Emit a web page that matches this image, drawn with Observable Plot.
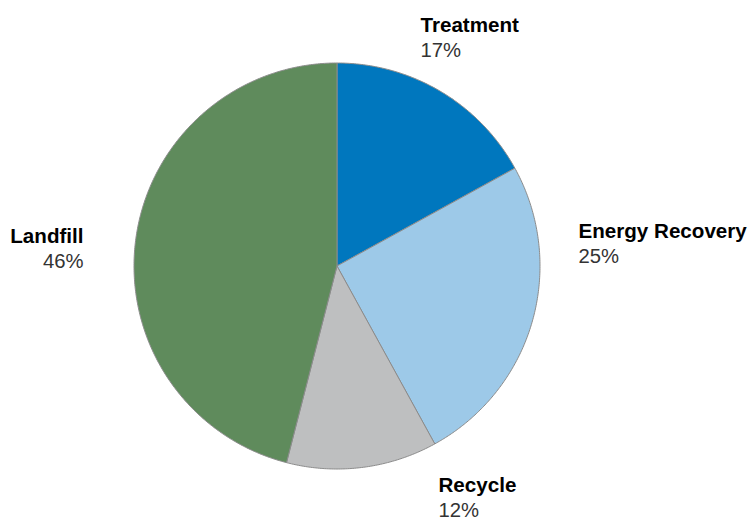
<!DOCTYPE html>
<html>
<head>
<meta charset="utf-8">
<script src="https://cdn.jsdelivr.net/npm/d3@7"></script>
<script src="https://cdn.jsdelivr.net/npm/@observablehq/plot@0.6"></script>
<style>
  html, body { margin: 0; padding: 0; background: #fff; }
  #chart { width: 753px; height: 521px; }
</style>
</head>
<body>
<div id="chart"></div>
<script>
// ---- data ----
const categories = ["Treatment", "Energy Recovery", "Recycle", "Landfill"];
const shares = [17, 25, 12, 46];
const colors = ["#0077be", "#9dc9e8", "#bebfc0", "#5f8b5c"];

// ---- layout (not data) ----
const W = 753, H = 521;
const cx = 336.5, cy = 265.5, R = 203;
// label anchors: [x, baseline of name line, text-anchor]
const labelLayout = {
  "Treatment":       [420, 31, "start"],
  "Energy Recovery": [578, 237, "start"],
  "Recycle":         [438, 491, "start"],
  "Landfill":        [83, 242, "end"]
};
const lineGap = 25.5;

// ---- build pie geometry from data ----
const total = d3.sum(shares);
const pie = d3.pie().sort(null).value(d => d.value)(categories.map((c, i) => ({name: c, value: shares[i]})));
const polys = [];
pie.forEach(s => {
  const a0 = s.startAngle, a1 = s.endAngle;
  const n = Math.max(2, Math.ceil((a1 - a0) / (Math.PI / 360)));
  polys.push({name: s.data.name, x: cx, y: cy});
  for (let k = 0; k <= n; k++) {
    const a = a0 + (a1 - a0) * k / n;
    polys.push({name: s.data.name, x: cx + R * Math.sin(a), y: cy - R * Math.cos(a)});
  }
  polys.push({name: s.data.name, x: cx, y: cy});
});

const labels = categories.map((c, i) => ({
  name: c,
  pct: Math.round(shares[i] / total * 100) + "%",
  x: labelLayout[c][0],
  y: labelLayout[c][1],
  anchor: labelLayout[c][2]
}));

const font = "'Liberation Sans', Arial, Helvetica, sans-serif";

const chart = Plot.plot({
  width: W,
  height: H,
  margin: 0,
  x: {domain: [0, W], range: [0, W], axis: null},
  y: {domain: [0, H], range: [0, H], axis: null},
  color: {domain: categories, range: colors},
  style: {fontFamily: font, background: "#fff"},
  marks: [
    Plot.line(polys, {x: "x", y: "y", z: "name", fill: "name", stroke: "#8c8c8c", strokeWidth: 1, strokeLinejoin: "round", curve: "linear"}),
    ...["start", "end"].map(anc => Plot.text(labels.filter(d => d.anchor === anc), {
      x: "x", y: "y", text: "name", textAnchor: anc, lineAnchor: "bottom",
      fontSize: 20.6, fontWeight: "bold", fill: "#000"
    })),
    ...["start", "end"].map(anc => Plot.text(labels.filter(d => d.anchor === anc), {
      x: "x", y: d => d.y + lineGap, text: "pct", textAnchor: anc, lineAnchor: "bottom",
      fontSize: 20.3, fontWeight: "normal", fill: "#333"
    }))
  ]
});
document.getElementById("chart").appendChild(chart);
</script>
</body>
</html>
